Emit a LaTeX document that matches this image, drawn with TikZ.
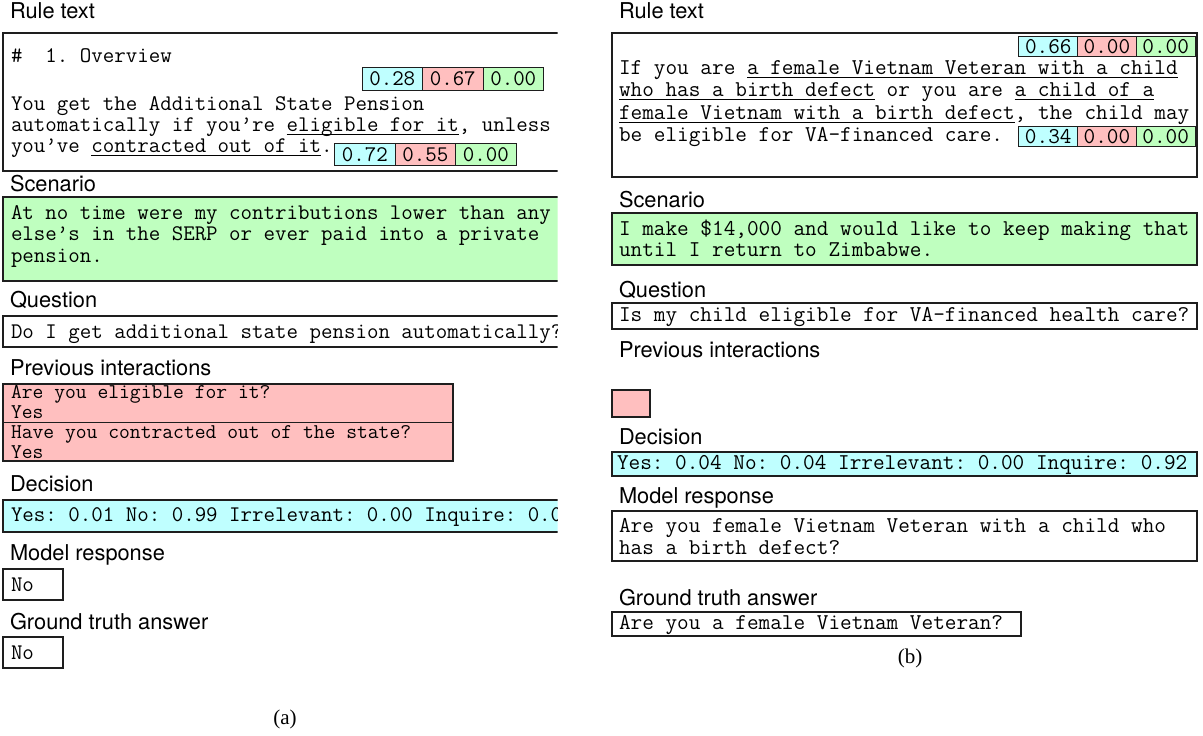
\documentclass[tikz,border=0pt]{standalone}
\usepackage{fontspec}
\setmainfont{Liberation Serif}
\setsansfont{TeX Gyre Heros}
\definecolor{cyanbg}{RGB}{191,255,255}
\definecolor{redbg}{RGB}{255,191,191}
\definecolor{greenbg}{RGB}{191,255,191}
\definecolor{rim}{RGB}{30,30,30}
% underlined span with a rule at a fixed depth below the baseline
\newcommand\ulseg[1]{\setbox0\hbox{#1}\rlap{\rule[-3.5pt]{\wd0}{0.9pt}}\box0\relax}
\tikzset{
  every node/.style={inner sep=0pt, outer sep=0pt},
  lbl/.style={anchor=base west, font=\sffamily\fontsize{21.8}{24}\selectfont},
  panel/.style={draw=rim, line width=1.1pt, anchor=north west},
  txtL/.style={anchor=base west, font=\ttfamily\fontsize{22.3}{23}\selectfont},
  txtP/.style={anchor=base west, font=\ttfamily\fontsize{21}{21}\selectfont},
  txtR/.style={anchor=base west, font=\ttfamily\fontsize{22.6}{23}\selectfont},
  cellL/.style={draw=rim, line width=1pt, minimum width=60.5pt, minimum height=22.5pt,
    font=\ttfamily\fontsize{22.3}{23}\selectfont},
  cellR/.style={draw=rim, line width=1pt, minimum width=58.7pt, minimum height=20pt,
    font=\ttfamily\fontsize{22.6}{23}\selectfont},
  capt/.style={anchor=base, font=\rmfamily\fontsize{21}{24}\selectfont},
}
\begin{document}
\frenchspacing
\begin{tikzpicture}[x=1pt, y=-1pt]
\fill[white] (0,0) rectangle (1203,736);
\useasboundingbox (0,0) rectangle (1203,736);

%% ---------------- left example (cut off on its right side) ----------------
\begin{scope}
\clip (0,0) rectangle (557.5,736);
\node[lbl] (lRuleLbl) at (10,19) {Rule text};
\node[panel, minimum width=572pt, minimum height=138pt] (lRule) at (3,33) {};
\node[txtL] (lR0) at (11,62) {\#\ \ 1. Overview};
\node[cellL, fill=cyanbg, anchor=north west] (lA1) at (362,67.5) {0.28};
\node[cellL, fill=redbg, anchor=north west] (lA2) at (lA1.north east) {0.67};
\node[cellL, fill=greenbg, anchor=north west] (lA3) at (lA2.north east) {0.00};
\node[txtL] (lR1) at (11,110) {You get the Additional State Pension};
\node[txtL] (lR2) at (11,131) {automatically if you’re \ulseg{eligible for it}, unless};
\node[txtL] (lR3) at (11,152) {you’ve \ulseg{contracted out of it}.};
\coordinate (lBy) at (0,143);
\path (lR3.east) ++(2,0) coordinate (lBx);
\node[cellL, fill=cyanbg, anchor=north west] (lB1) at (lBx |- lBy) {0.72};
\node[cellL, fill=redbg, anchor=north west] (lB2) at (lB1.north east) {0.55};
\node[cellL, fill=greenbg, anchor=north west] (lB3) at (lB2.north east) {0.00};

\node[lbl] (lScenLbl) at (10,191) {Scenario};
\node[panel, fill=greenbg, minimum width=572pt, minimum height=84pt] (lScen) at (3,197) {};
\node[txtL] (lS1) at (11,219) {At no time were my contributions lower than any};
\node[txtL] (lS2) at (11,240) {else’s in the SERP or ever paid into a private};
\node[txtL] (lS3) at (11,262) {pension.};

\node[lbl] (lQLbl) at (10,307) {Question};
\node[panel, minimum width=572pt, minimum height=31pt] (lQ) at (3,316) {};
\node[txtL] (lQ1) at (11,338) {Do I get additional state pension automatically?};

\node[lbl] (lPLbl) at (10,375) {Previous interactions};
\node[panel, fill=redbg, minimum width=450pt, minimum height=38.5pt] (lP1) at (3,384) {};
\node[panel, fill=redbg, minimum width=450pt, minimum height=38.5pt] (lP2) at (3,422.5) {};
\node[txtP] (lP1a) at (11,398.5) {Are you eligible for it?};
\node[txtP] (lP1b) at (11,418.5) {Yes};
\node[txtP] (lP2a) at (11,438) {Have you contracted out of the state?};
\node[txtP] (lP2b) at (11,458) {Yes};

\node[lbl] (lDLbl) at (10,491) {Decision};
\node[panel, fill=cyanbg, minimum width=572pt, minimum height=32pt] (lD) at (3,500) {};
\node[txtL] (lD1) at (11,521) {Yes: 0.01 No: 0.99 Irrelevant: 0.00 Inquire: 0.0};

\node[lbl] (lMLbl) at (10,560) {Model response};
\node[panel, minimum width=60pt, minimum height=31pt] (lM) at (3,569) {};
\node[txtL] (lM1) at (11,591) {No};

\node[lbl] (lGLbl) at (10,629) {Ground truth answer};
\node[panel, minimum width=60pt, minimum height=31pt] (lG) at (3,637) {};
\node[txtL] (lG1) at (11,659) {No};
\end{scope}

\node[capt] (capA) at (285,724) {(a)};

%% ---------------- right example ----------------
\node[lbl] (rRuleLbl) at (619,19) {Rule text};
\node[panel, minimum width=585pt, minimum height=144pt] (rRule) at (612,33) {};
\node[cellR, fill=greenbg, anchor=north east] (rC3) at (1195,36.5) {0.00};
\node[cellR, fill=redbg, anchor=north east] (rC2) at (rC3.north west) {0.00};
\node[cellR, fill=cyanbg, anchor=north east] (rC1) at (rC2.north west) {0.66};
\node[txtR] (rR1) at (619,74) {If you are \ulseg{a female Vietnam Veteran with a child}};
\node[txtR] (rR2) at (619,96.5) {\ulseg{who has a birth defect} or you are \ulseg{a child of a}};
\node[txtR] (rR3) at (619,119) {\ulseg{female Vietnam with a birth defect}, the child may};
\node[txtR] (rR4) at (619,141.5) {be eligible for VA-financed care.};
\node[cellR, fill=greenbg, anchor=north east] (rD3) at (1195,126.5) {0.00};
\node[cellR, fill=redbg, anchor=north east] (rD2) at (rD3.north west) {0.00};
\node[cellR, fill=cyanbg, anchor=north east] (rD1) at (rD2.north west) {0.34};

\node[lbl] (rScenLbl) at (619,207) {Scenario};
\node[panel, fill=greenbg, minimum width=585pt, minimum height=52pt] (rScen) at (612,213) {};
\node[txtR] (rS1) at (619,235) {I make \$14,000 and would like to keep making that};
\node[txtR] (rS2) at (619,256) {until I return to Zimbabwe.};

\node[lbl] (rQLbl) at (619,297) {Question};
\node[panel, minimum width=585pt, minimum height=26pt] (rQ) at (612,303) {};
\node[txtR] (rQ1) at (619,321) {Is my child eligible for VA-financed health care?};

\node[lbl] (rPLbl) at (619,357) {Previous interactions};
\node[panel, fill=redbg, minimum width=38pt, minimum height=27pt] (rP) at (612,390) {};

\node[lbl] (rDLbl) at (619,444) {Decision};
\node[panel, fill=cyanbg, minimum width=585pt, minimum height=24pt] (rD) at (612,452) {};
\node[txtR] (rD1) at (617,469) {Yes: 0.04 No: 0.04 Irrelevant: 0.00 Inquire: 0.92};

\node[lbl] (rMLbl) at (619,503) {Model response};
\node[panel, minimum width=585pt, minimum height=50pt] (rM) at (612,511) {};
\node[txtR] (rM1) at (619,532) {Are you female Vietnam Veteran with a child who};
\node[txtR] (rM2) at (619,554) {has a birth defect?};

\node[lbl] (rGLbl) at (619,605) {Ground truth answer};
\node[panel, minimum width=409pt, minimum height=24pt] (rG) at (612,612) {};
\node[txtR] (rG1) at (619,629) {Are you a female Vietnam Veteran?};

\node[capt] (capB) at (910,663) {(b)};
\end{tikzpicture}
\end{document}
